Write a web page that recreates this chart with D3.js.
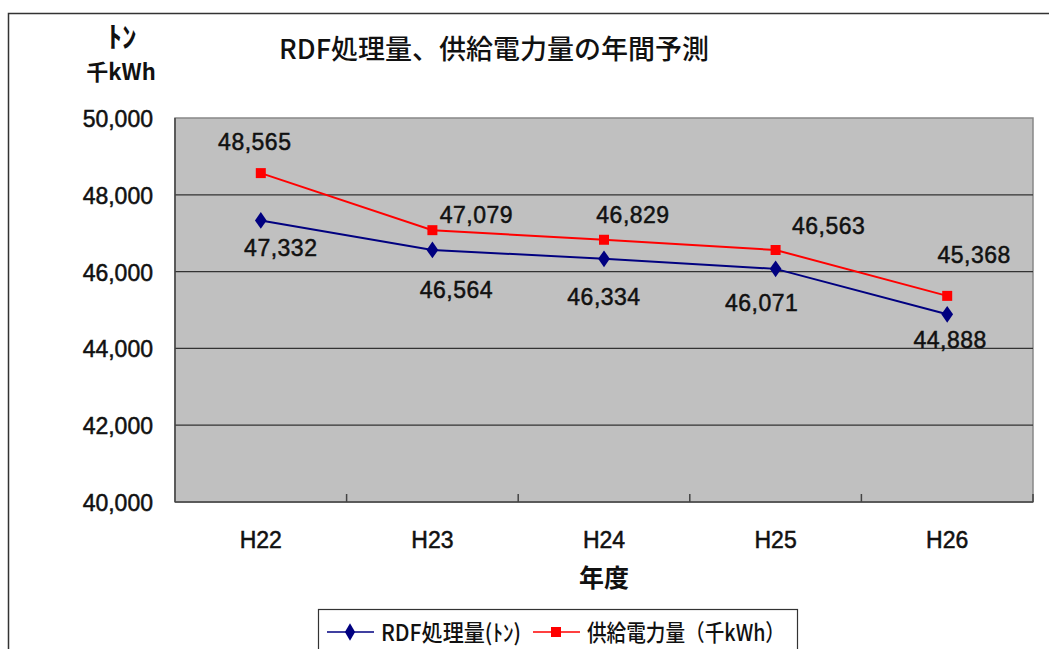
<!DOCTYPE html>
<html>
<head>
<meta charset="utf-8">
<script src="https://cdn.jsdelivr.net/npm/d3@7"></script>
<style>
  html, body { margin: 0; padding: 0; background: #fff; }
  svg text { font-family: "Liberation Sans", "Noto Sans CJK JP", sans-serif; fill: #111; }
  svg text.num { stroke: #111; stroke-width: 0.5px; }
  svg text.jp { font-family: "Noto Sans CJK JP", sans-serif; font-weight: 700; }
</style>
</head>
<body>
<script>
const years = ['H22', 'H23', 'H24', 'H25', 'H26'];
const rdfTons = [47332, 46564, 46334, 46071, 44888];
const powerKWh = [48565, 47079, 46829, 46563, 45368];
const yTicks = [40000, 42000, 44000, 46000, 48000, 50000];

// label offsets from each point (placed by hand in the original)
const rdfLabelOffsets = [[20, 28], [24, 40], [0, 38], [-14, 34], [3, 26]];
const powerLabelOffsets = [[-6, -31], [44, -15], [29, -25], [53, -24], [27, -41]];

const width = 1049, height = 649;
const plot = { left: 175, right: 1033, top: 118, bottom: 502 };

const svg = d3.select('body').append('svg')
              .attr('width', width)
              .attr('height', height);

// outer chart frame
svg.append('rect')
   .attr('x', 8.5).attr('y', 13.5)
   .attr('width', 1100).attr('height', 700)
   .attr('fill', 'none')
   .attr('stroke', '#333')
   .attr('stroke-width', 1.5);

const x = d3.scaleBand().domain(years).range([plot.left, plot.right]);
const y = d3.scaleLinear().domain([40000, 50000]).range([plot.bottom, plot.top]);
const fmt = d3.format(',');

svg.append('rect')
   .attr('x', plot.left).attr('y', plot.top)
   .attr('width', plot.right - plot.left).attr('height', plot.bottom - plot.top)
   .attr('fill', '#c0c0c0')
   .attr('stroke', '#888')
   .attr('stroke-width', 1.5);

// gridlines
svg.append('g')
   .selectAll('line')
   .data(yTicks.slice(1, -1))
   .enter()
   .append('line')
   .attr('x1', plot.left).attr('x2', plot.right)
   .attr('y1', d => y(d)).attr('y2', d => y(d))
   .attr('stroke', '#333')
   .attr('stroke-width', 1.3);

// axes lines
svg.append('line')
   .attr('x1', plot.left).attr('x2', plot.left)
   .attr('y1', plot.top).attr('y2', plot.bottom)
   .attr('stroke', '#444').attr('stroke-width', 1.5);
svg.append('line')
   .attr('x1', plot.left).attr('x2', plot.right)
   .attr('y1', plot.bottom).attr('y2', plot.bottom)
   .attr('stroke', '#444').attr('stroke-width', 1.5);

// category boundary ticks
svg.append('g')
   .selectAll('line')
   .data(years.slice(1).concat(['end']))
   .enter()
   .append('line')
   .attr('x1', d => d === 'end' ? plot.right : x(d))
   .attr('x2', d => d === 'end' ? plot.right : x(d))
   .attr('y1', plot.bottom).attr('y2', plot.bottom - 8)
   .attr('stroke', '#444').attr('stroke-width', 1.5);

// y tick labels
svg.append('g')
   .selectAll('text')
   .data(yTicks)
   .enter()
   .append('text')
   .attr('class', 'num')
   .attr('x', 153)
   .attr('y', d => y(d) + 9)
   .attr('text-anchor', 'end')
   .style('font-size', '23px')
   .text(d => fmt(d));

// x tick labels
svg.append('g')
   .selectAll('text')
   .data(years)
   .enter()
   .append('text')
   .attr('class', 'num')
   .attr('x', d => x(d) + x.bandwidth() / 2)
   .attr('y', 548)
   .attr('text-anchor', 'middle')
   .style('font-size', '23px')
   .text(d => d);

// titles
svg.append('text')
   .attr('class', 'jp')
   .attr('x', 494).attr('y', 59)
   .attr('text-anchor', 'middle')
   .style('font-size', '27px')
   .style('font-weight', 500)
   .text('RDF処理量、供給電力量の年間予測');

svg.append('text')
   .attr('class', 'jp')
   .attr('x', 122).attr('y', 48)
   .attr('text-anchor', 'middle')
   .style('font-size', '29px')
   .text('ﾄﾝ');

svg.append('text')
   .attr('class', 'jp')
   .attr('x', 121).attr('y', 80)
   .attr('text-anchor', 'middle')
   .style('font-size', '22px')
   .text('千kWh');

svg.append('text')
   .attr('class', 'jp')
   .attr('x', 604).attr('y', 587)
   .attr('text-anchor', 'middle')
   .style('font-size', '25px')
   .text('年度');

const cx = d => x(d) + x.bandwidth() / 2;
const line = d3.line().x(d => cx(d[0])).y(d => y(d[1]));

const series = [
  { values: rdfTons, color: '#000080', shape: d3.symbolDiamond, size: 90, offsets: rdfLabelOffsets },
  { values: powerKWh, color: '#ff0000', shape: d3.symbolSquare, size: 100, offsets: powerLabelOffsets }
];

series.forEach(function(s) {
  const pts = years.map((yr, i) => [yr, s.values[i]]);
  svg.append('path')
     .attr('d', line(pts))
     .attr('fill', 'none')
     .attr('stroke', s.color)
     .attr('stroke-width', 2);

  svg.append('g')
     .selectAll('path')
     .data(pts)
     .enter()
     .append('path')
     .attr('d', d3.symbol().type(s.shape).size(s.size))
     .attr('transform', d => s.shape === d3.symbolDiamond
        ? `translate(${cx(d[0])},${y(d[1])}) scale(1.15,0.95)`
        : `translate(${cx(d[0])},${y(d[1])})`)
     .attr('fill', s.color);

  svg.append('g')
     .selectAll('text')
     .data(pts)
     .enter()
     .append('text')
     .attr('class', 'num')
     .attr('x', (d, i) => cx(d[0]) + s.offsets[i][0])
     .attr('y', (d, i) => y(d[1]) + s.offsets[i][1] + 8)
     .attr('text-anchor', 'middle')
     .style('font-size', '23px')
     .style('letter-spacing', '0.5px')
     .text(d => fmt(d[1]));
});

// legend
const legend = svg.append('g').attr('id', 'legend');
legend.append('rect')
      .attr('x', 318.5).attr('y', 609.5)
      .attr('width', 479).attr('height', 60)
      .attr('fill', '#fff')
      .attr('stroke', '#333')
      .attr('stroke-width', 1.2);

const legendItems = [
  { label: 'RDF処理量(ﾄﾝ)', s: series[0], x0: 327, len: 140 },
  { label: '供給電力量（千kWh）', s: series[1], x0: 533, len: 198 }
];
legendItems.forEach(function(it) {
  legend.append('line')
        .attr('x1', it.x0).attr('x2', it.x0 + 47)
        .attr('y1', 632).attr('y2', 632)
        .attr('stroke', it.s.color).attr('stroke-width', 1.5);
  legend.append('path')
        .attr('d', d3.symbol().type(it.s.shape).size(it.s.size))
        .attr('transform', `translate(${it.x0 + 23},632)`)
        .attr('fill', it.s.color);
  legend.append('text')
        .attr('class', 'jp')
        .attr('x', it.x0 + 54).attr('y', 641)
        .attr('textLength', it.len)
        .attr('lengthAdjust', 'spacingAndGlyphs')
        .style('font-size', '23px')
        .style('font-weight', 500)
        .text(it.label);
});
</script>
</body>
</html>
